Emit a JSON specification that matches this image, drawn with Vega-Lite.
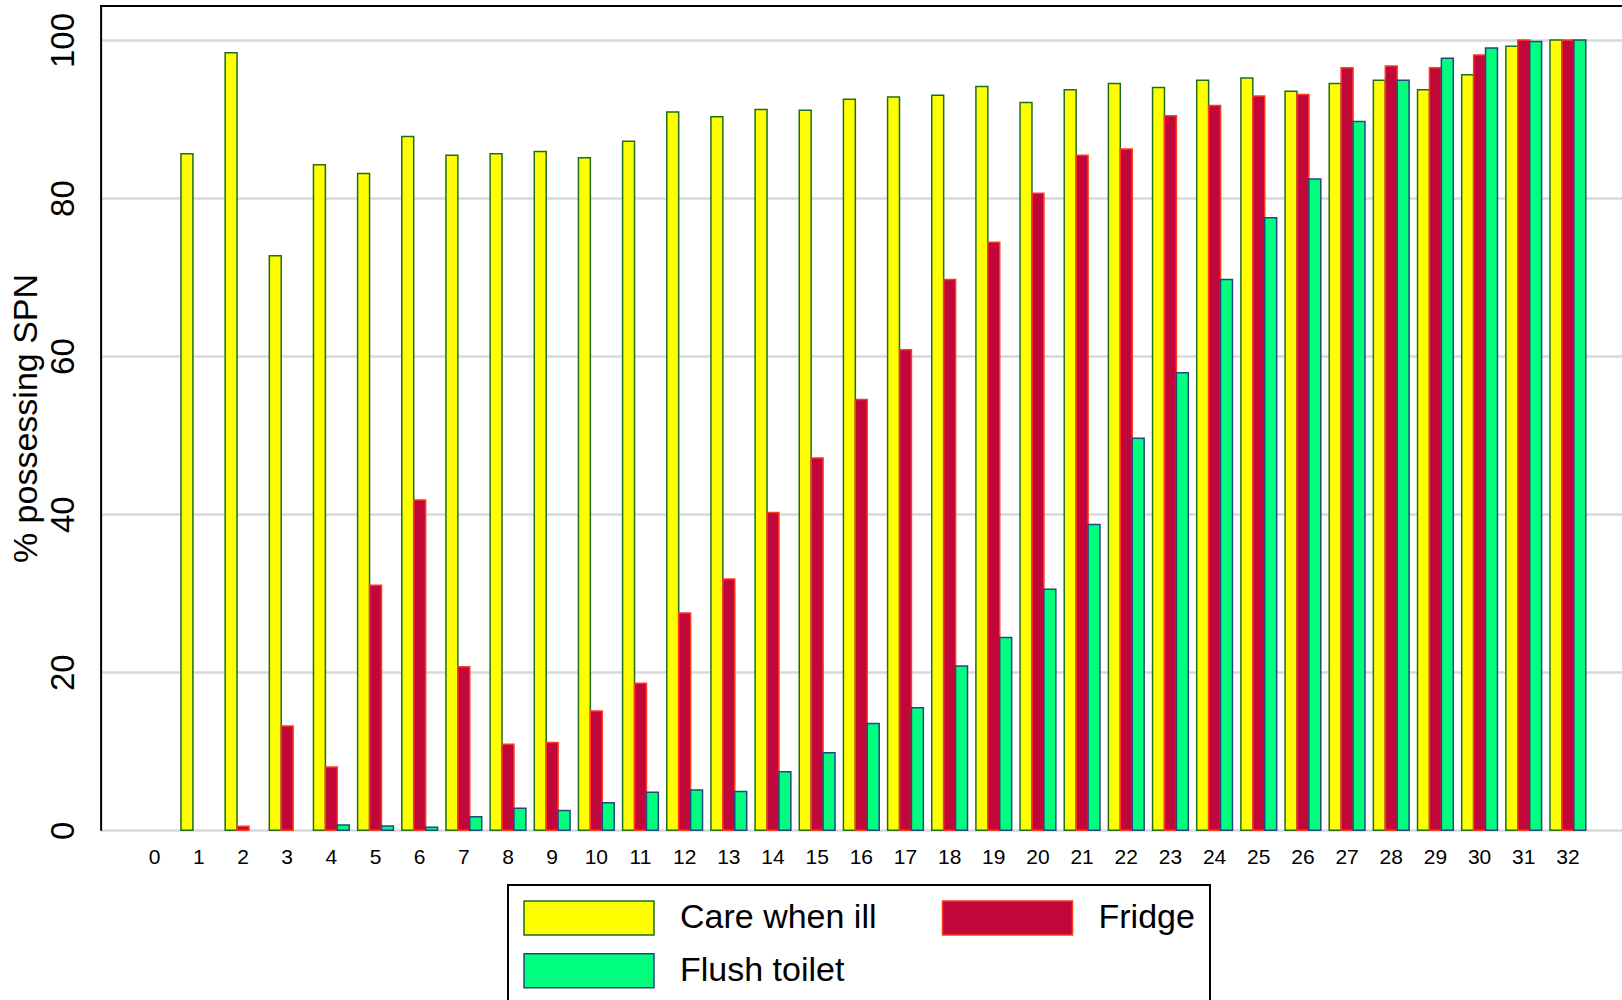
{
  "$schema": "https://vega.github.io/schema/vega-lite/v6.json",
  "autosize": {"type": "none"},
  "padding": {"left": 100.6, "top": 6, "right": 0, "bottom": 169.7},
  "width": 1521.4,
  "height": 824.3,
  "background": "white",
  "config": {
    "font": "Liberation Sans",
    "view": {"stroke": null},
    "legend": {"strokeWidth": 2}
  },
  "data": {
    "values": [
      {"n": 1, "s": "Care when ill", "v": 85.6},
      {"n": 2, "s": "Care when ill", "v": 98.4},
      {"n": 3, "s": "Care when ill", "v": 72.7},
      {"n": 4, "s": "Care when ill", "v": 84.2},
      {"n": 5, "s": "Care when ill", "v": 83.1},
      {"n": 6, "s": "Care when ill", "v": 87.8},
      {"n": 7, "s": "Care when ill", "v": 85.4},
      {"n": 8, "s": "Care when ill", "v": 85.6},
      {"n": 9, "s": "Care when ill", "v": 85.9},
      {"n": 10, "s": "Care when ill", "v": 85.1},
      {"n": 11, "s": "Care when ill", "v": 87.2},
      {"n": 12, "s": "Care when ill", "v": 90.9},
      {"n": 13, "s": "Care when ill", "v": 90.3},
      {"n": 14, "s": "Care when ill", "v": 91.2},
      {"n": 15, "s": "Care when ill", "v": 91.1},
      {"n": 16, "s": "Care when ill", "v": 92.5},
      {"n": 17, "s": "Care when ill", "v": 92.8},
      {"n": 18, "s": "Care when ill", "v": 93.0},
      {"n": 19, "s": "Care when ill", "v": 94.1},
      {"n": 20, "s": "Care when ill", "v": 92.1},
      {"n": 21, "s": "Care when ill", "v": 93.7},
      {"n": 22, "s": "Care when ill", "v": 94.5},
      {"n": 23, "s": "Care when ill", "v": 94.0},
      {"n": 24, "s": "Care when ill", "v": 94.9},
      {"n": 25, "s": "Care when ill", "v": 95.2},
      {"n": 26, "s": "Care when ill", "v": 93.5},
      {"n": 27, "s": "Care when ill", "v": 94.5},
      {"n": 28, "s": "Care when ill", "v": 94.9},
      {"n": 29, "s": "Care when ill", "v": 93.7},
      {"n": 30, "s": "Care when ill", "v": 95.6},
      {"n": 31, "s": "Care when ill", "v": 99.2},
      {"n": 32, "s": "Care when ill", "v": 100},
      {"n": 2, "s": "Fridge", "v": 0.5},
      {"n": 3, "s": "Fridge", "v": 13.2},
      {"n": 4, "s": "Fridge", "v": 8.0},
      {"n": 5, "s": "Fridge", "v": 31.0},
      {"n": 6, "s": "Fridge", "v": 41.8},
      {"n": 7, "s": "Fridge", "v": 20.7},
      {"n": 8, "s": "Fridge", "v": 10.9},
      {"n": 9, "s": "Fridge", "v": 11.1},
      {"n": 10, "s": "Fridge", "v": 15.1},
      {"n": 11, "s": "Fridge", "v": 18.6},
      {"n": 12, "s": "Fridge", "v": 27.5},
      {"n": 13, "s": "Fridge", "v": 31.8},
      {"n": 14, "s": "Fridge", "v": 40.2},
      {"n": 15, "s": "Fridge", "v": 47.1},
      {"n": 16, "s": "Fridge", "v": 54.5},
      {"n": 17, "s": "Fridge", "v": 60.8},
      {"n": 18, "s": "Fridge", "v": 69.7},
      {"n": 19, "s": "Fridge", "v": 74.4},
      {"n": 20, "s": "Fridge", "v": 80.6},
      {"n": 21, "s": "Fridge", "v": 85.4},
      {"n": 22, "s": "Fridge", "v": 86.2},
      {"n": 23, "s": "Fridge", "v": 90.4},
      {"n": 24, "s": "Fridge", "v": 91.7},
      {"n": 25, "s": "Fridge", "v": 92.9},
      {"n": 26, "s": "Fridge", "v": 93.1},
      {"n": 27, "s": "Fridge", "v": 96.5},
      {"n": 28, "s": "Fridge", "v": 96.7},
      {"n": 29, "s": "Fridge", "v": 96.5},
      {"n": 30, "s": "Fridge", "v": 98.1},
      {"n": 31, "s": "Fridge", "v": 100},
      {"n": 32, "s": "Fridge", "v": 100},
      {"n": 4, "s": "Flush toilet", "v": 0.67},
      {"n": 5, "s": "Flush toilet", "v": 0.54},
      {"n": 6, "s": "Flush toilet", "v": 0.38},
      {"n": 7, "s": "Flush toilet", "v": 1.7},
      {"n": 8, "s": "Flush toilet", "v": 2.8},
      {"n": 9, "s": "Flush toilet", "v": 2.5},
      {"n": 10, "s": "Flush toilet", "v": 3.5},
      {"n": 11, "s": "Flush toilet", "v": 4.8},
      {"n": 12, "s": "Flush toilet", "v": 5.1},
      {"n": 13, "s": "Flush toilet", "v": 4.9},
      {"n": 14, "s": "Flush toilet", "v": 7.4},
      {"n": 15, "s": "Flush toilet", "v": 9.8},
      {"n": 16, "s": "Flush toilet", "v": 13.5},
      {"n": 17, "s": "Flush toilet", "v": 15.5},
      {"n": 18, "s": "Flush toilet", "v": 20.8},
      {"n": 19, "s": "Flush toilet", "v": 24.4},
      {"n": 20, "s": "Flush toilet", "v": 30.5},
      {"n": 21, "s": "Flush toilet", "v": 38.7},
      {"n": 22, "s": "Flush toilet", "v": 49.6},
      {"n": 23, "s": "Flush toilet", "v": 57.9},
      {"n": 24, "s": "Flush toilet", "v": 69.7},
      {"n": 25, "s": "Flush toilet", "v": 77.5},
      {"n": 26, "s": "Flush toilet", "v": 82.4},
      {"n": 27, "s": "Flush toilet", "v": 89.7},
      {"n": 28, "s": "Flush toilet", "v": 94.9},
      {"n": 29, "s": "Flush toilet", "v": 97.7},
      {"n": 30, "s": "Flush toilet", "v": 99.0},
      {"n": 31, "s": "Flush toilet", "v": 99.8},
      {"n": 32, "s": "Flush toilet", "v": 100}
    ]
  },
  "layer": [
    {
      "mark": {"type": "bar", "strokeWidth": 1.5, "strokeOpacity": 1},
      "encoding": {
        "x": {
          "field": "n",
          "type": "ordinal",
          "scale": {
            "domain": [0,1,2,3,4,5,6,7,8,9,10,11,12,13,14,15,16,17,18,19,20,21,22,23,24,25,26,27,28,29,30,31,32],
            "paddingInner": 0.19,
            "paddingOuter": 0.82
          },
          "axis": {
            "title": null,
            "domain": false,
            "ticks": false,
            "grid": false,
            "labelAngle": 0,
            "labelFontSize": 21,
            "labelColor": "black",
            "labelPadding": 33,
            "labelBaseline": "alphabetic",
            "labelOverlap": false
          }
        },
        "xOffset": {
          "field": "s",
          "type": "nominal",
          "scale": {"domain": ["Care when ill", "Fridge", "Flush toilet"], "paddingInner": 0, "paddingOuter": 0}
        },
        "y": {
          "field": "v",
          "type": "quantitative",
          "title": "% possessing SPN",
          "scale": {"domain": [0, 104.3], "nice": false, "zero": true},
          "axis": {
            "title": "% possessing SPN",
            "titleFontSize": 34,
            "titleFontWeight": "normal",
            "titleColor": "black",
            "titleAngle": -90,
            "titleAlign": "center",
            "titleBaseline": "alphabetic",
            "titleX": -64.6,
            "titleY": 412,
            "values": [0, 20, 40, 60, 80, 100],
            "domain": true,
            "domainColor": "black",
            "domainWidth": 2,
            "ticks": false,
            "tickSize": 0,
            "grid": true,
            "gridColor": "#d9d9d9",
            "gridWidth": 2.5,
            "labelAngle": -90,
            "labelAlign": "center",
            "labelBaseline": "alphabetic",
            "labelPadding": 27.5,
            "labelFontSize": 33,
            "labelColor": "black",
            "labelOverlap": false
          }
        },
        "fill": {
          "field": "s",
          "type": "nominal",
          "scale": {"domain": ["Care when ill", "Fridge", "Flush toilet"], "range": ["#FFFF00", "#C1073A", "#00FF7F"]},
          "legend": {
            "orient": "none",
            "direction": "horizontal",
            "legendX": 407.4,
            "legendY": 879,
            "title": null,
            "columns": 2,
            "symbolType": "M-1,-1L6.647,-1L6.647,1L-1,1Z",
            "symbolSize": 1156,
            "symbolStrokeWidth": 1.5,
            "symbolOpacity": 1,
            "labelFontSize": 34,
            "labelColor": "black",
            "labelOffset": 121,
            "labelLimit": 1000,
            "columnPadding": 62.5,
            "rowPadding": 12.8,
            "padding": 15,
            "strokeColor": "black"
          }
        },
        "stroke": {
          "field": "s",
          "type": "nominal",
          "scale": {"domain": ["Care when ill", "Fridge", "Flush toilet"], "range": ["#1E6E1E", "#FF3A1A", "#24477F"]},
          "legend": {
            "orient": "none",
            "direction": "horizontal",
            "legendX": 407.4,
            "legendY": 879,
            "title": null,
            "columns": 2,
            "symbolType": "M-1,-1L6.647,-1L6.647,1L-1,1Z",
            "symbolSize": 1156,
            "symbolStrokeWidth": 1.5,
            "symbolOpacity": 1,
            "labelFontSize": 34,
            "labelColor": "black",
            "labelOffset": 121,
            "labelLimit": 1000,
            "columnPadding": 62.5,
            "rowPadding": 12.8,
            "padding": 15,
            "strokeColor": "black"
          }
        }
      }
    },
    {
      "mark": {"type": "rule", "color": "black", "strokeWidth": 2},
      "encoding": {
        "y": {"datum": 104.3, "type": "quantitative", "title": "% possessing SPN"}
      }
    }
  ]
}
